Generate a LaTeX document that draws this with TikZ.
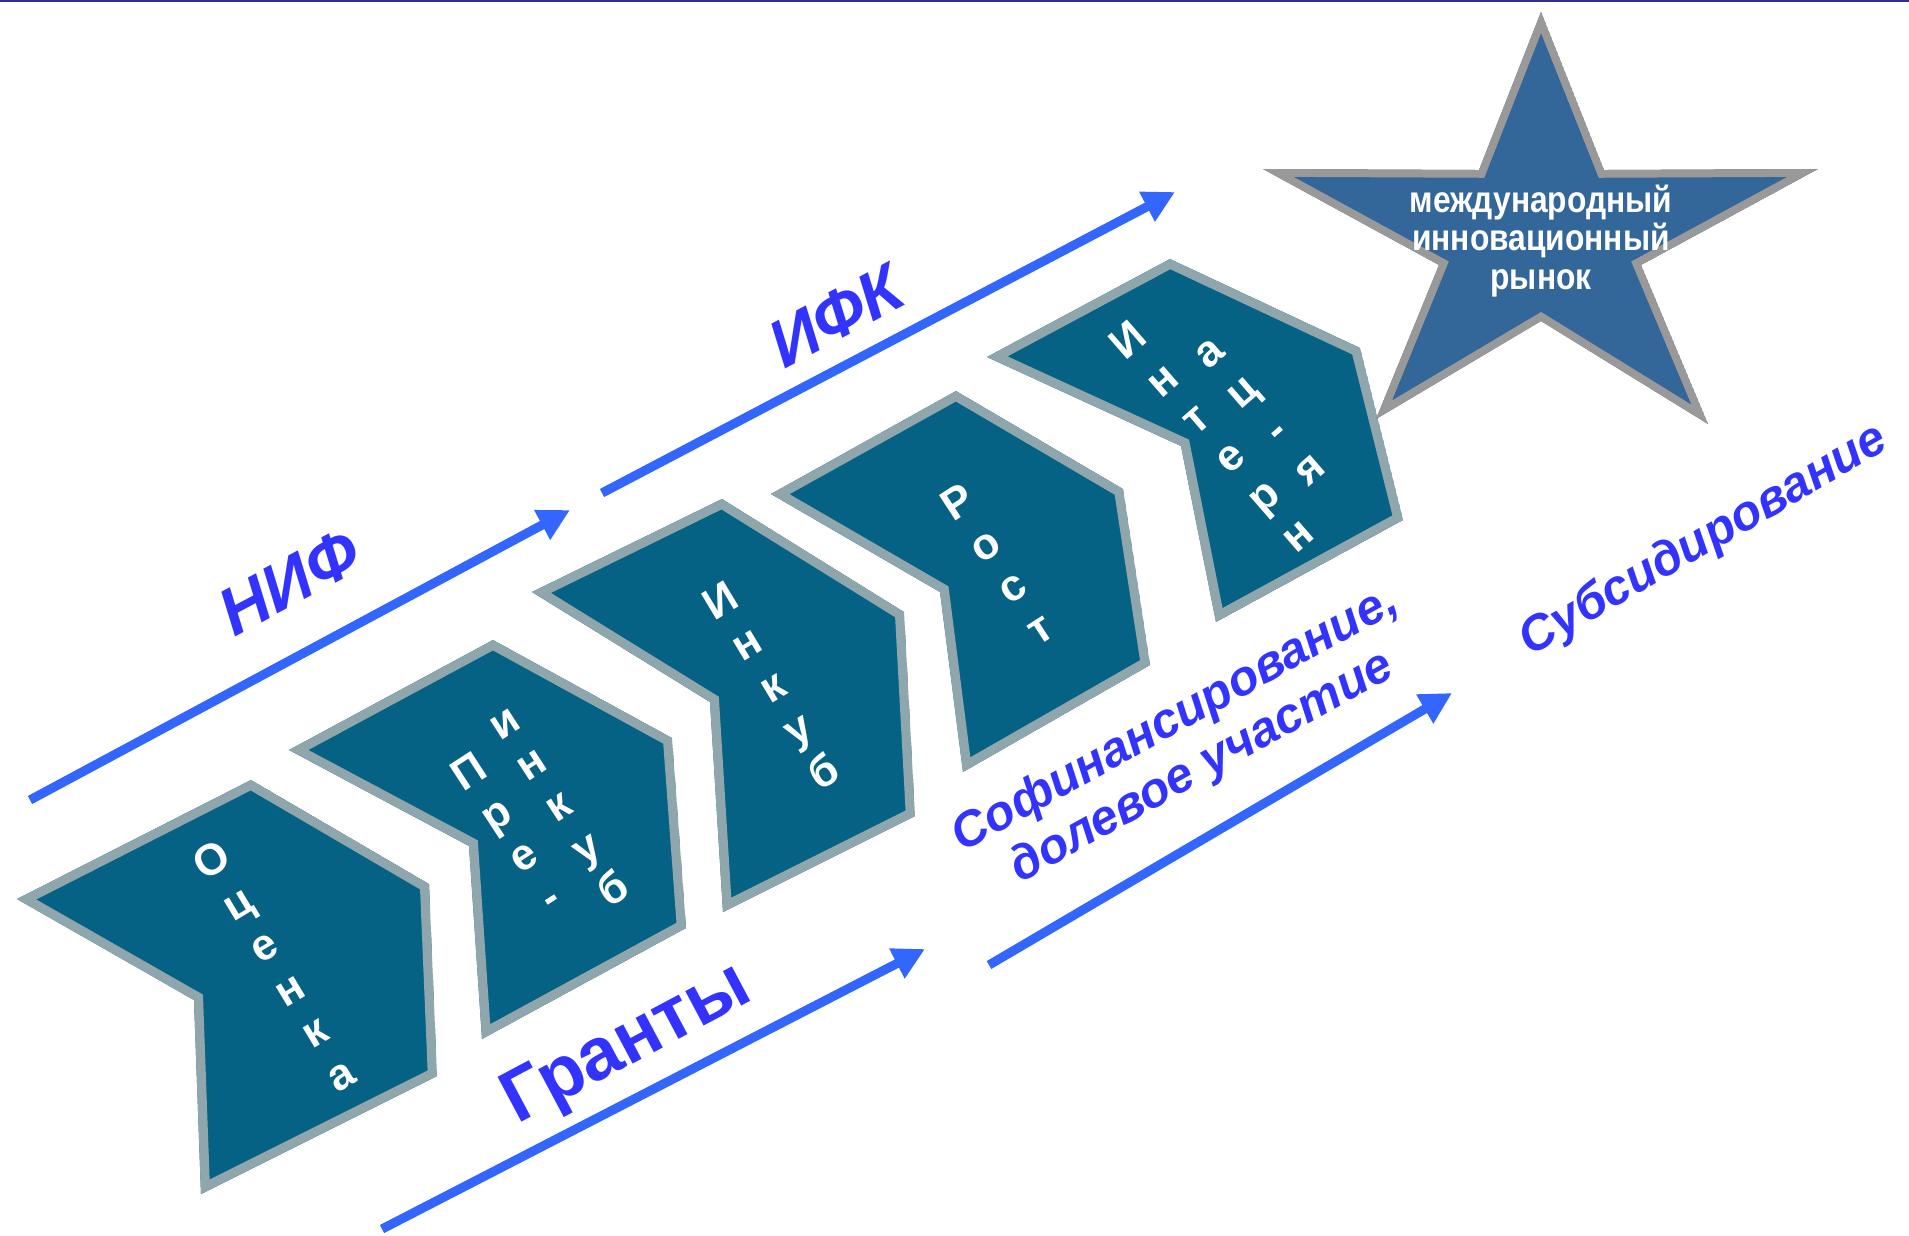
\documentclass[tikz,border=0pt]{standalone}
\usepackage{fontspec}
\setmainfont{Liberation Sans}
\newfontfamily\narrowfont[FakeStretch=0.86]{Liberation Sans}
\usetikzlibrary{arrows.meta}

\definecolor{chevfill}{RGB}{6,98,133}
\definecolor{chevedge}{RGB}{143,166,172}
\definecolor{starfill}{RGB}{51,102,153}
\definecolor{staredge}{RGB}{153,153,153}
\definecolor{labelblue}{RGB}{51,51,255}
\definecolor{arrowblue}{RGB}{51,102,255}
\definecolor{topline}{RGB}{46,49,146}

% outline drawn inside the shape only
\newcommand{\framedshape}[2]{\begin{scope}\clip #2;\draw[#1] #2;\end{scope}}

\begin{document}
\begin{tikzpicture}[x=0.01cm, y=-0.01cm,
ChevStyle/.style={draw=chevedge, fill=chevfill, line width=5.2pt},
StarStyle/.style={draw=staredge, fill=starfill, line width=4.4pt},
LetterStyle/.style={text=white, align=center, inner sep=0pt,
                font=\fontsize{12.5}{14.2}\selectfont\bfseries},
StarText/.style={text=white, align=center, inner sep=0pt,
                font=\narrowfont\bfseries\fontsize{10.5}{10.9}\selectfont},
BlueLabel/.style={text=labelblue, align=center, inner sep=0pt},
FlowArrow/.style={draw=arrowblue, line width=2.6pt,
                -{Triangle[length=9pt,width=9pt]}},]
\useasboundingbox (0,0) rectangle (1909,1235);
\fill[white] (0,0) rectangle (1909,1235);
\draw[topline, line width=0.6pt] (0,1) -- (1909,1);

% stages
\framedshape{ChevStyle}{(17,899) -- (251,780) -- (429,884) -- (437,1076) -- (201,1194) -- (194,1000) -- cycle}
\framedshape{ChevStyle}{(289,750) -- (493,640) -- (672,738) -- (686,928) -- (482,1039) -- (469,846) -- cycle}
\framedshape{ChevStyle}{(532,592) -- (722,499) -- (904,612) -- (915,816) -- (723,912) -- (710,702) -- cycle}
\framedshape{ChevStyle}{(771,494) -- (956,391) -- (1123,489) -- (1150,665) -- (963,772) -- (940,592) -- cycle}
\framedshape{ChevStyle}{(987,357) -- (1170,259) -- (1360,348) -- (1403,520) -- (1216,622) -- (1181,446) -- cycle}

\node[LetterStyle, rotate=31] (ocenka) at (276,967) {О\\ц\\е\\н\\к\\а};
\node[LetterStyle, rotate=33] (pre) at (509,834) {П\\р\\е\\-};
\node[LetterStyle, rotate=33] (preinkub) at (560,808) {и\\н\\к\\у\\б};
\node[LetterStyle, rotate=31] (inkub) at (772,686) {И\\н\\к\\у\\б};
\node[LetterStyle, rotate=33] (rost) at (998,565) {Р\\о\\с\\т};
\node[LetterStyle, rotate=41, font=\fontsize{12.5}{14.6}\selectfont\bfseries]
    (intern) at (1212,437) {И\\н\\т\\е\\р\\н};
\node[LetterStyle, rotate=41, font=\fontsize{12.5}{14.6}\selectfont\bfseries]
    (aciya) at (1260,412) {а\\ц\\-\\я};

% goal
\framedshape{StarStyle}{(1541,12) -- (1604,170) -- (1818,169) -- (1641,265) -- (1708,424) -- (1541,321) -- (1376,419) -- (1439,265) -- (1263,169) -- (1479,170) -- cycle}
\node[StarText] (market) at (1541,241) {международный\\инновационный\\рынок};

% funding
\coordinate (nifS) at (30,800);
\coordinate (nifE) at (570,510);
\coordinate (ifkS) at (602,493);
\coordinate (ifkE) at (1175,192);
\coordinate (grS) at (382,1229);
\coordinate (grE) at (925,949);
\coordinate (cofS) at (989,965);
\coordinate (cofE) at (1452,693);
\draw[FlowArrow] (nifS) -- (nifE);
\draw[FlowArrow] (ifkS) -- (ifkE);
\draw[FlowArrow] (grS) -- (grE);
\draw[FlowArrow] (cofS) -- (cofE);

\node[BlueLabel, rotate=28, font=\fontsize{19}{23}\selectfont\bfseries\itshape]
    (nif) at (289,582) {НИФ};
\node[BlueLabel, rotate=28, font=\fontsize{19}{23}\selectfont\bfseries\itshape]
    (ifk) at (836,316) {ИФК};
\node[BlueLabel, rotate=28, font=\fontsize{21}{25}\selectfont\bfseries]
    (grants) at (628,1046) {Гранты};
\node[BlueLabel, rotate=29, font=\fontsize{14}{15.6}\selectfont\bfseries\itshape]
    (cofin) at (1189,744) {Софинансирование,\\долевое участие};
\node[BlueLabel, rotate=30, font=\fontsize{14}{16}\selectfont\bfseries\itshape]
    (subsid) at (1704,541) {Субсидирование};
\end{tikzpicture}
\end{document}
